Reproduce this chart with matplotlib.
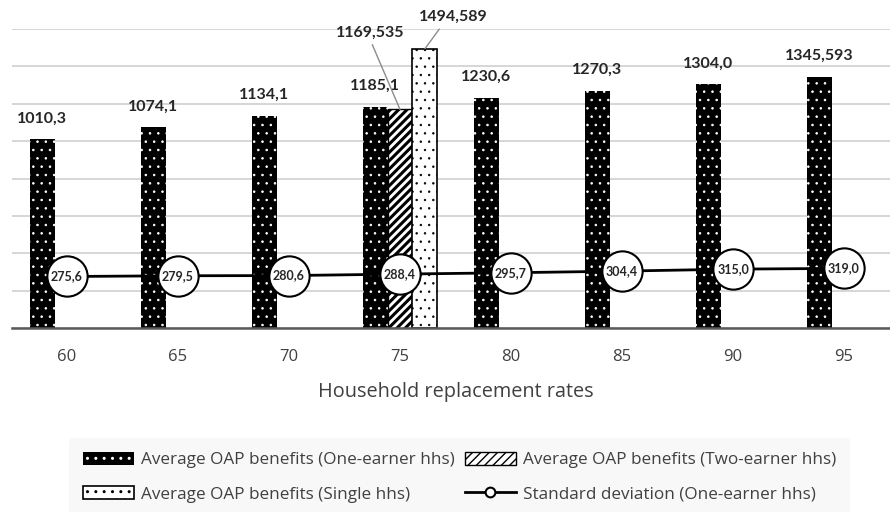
import matplotlib
matplotlib.use("Agg")
import matplotlib.pyplot as plt
import numpy as np

plt.rcParams['font.family'] = ['Lato', 'DejaVu Sans']

# data
rates = ['60', '65', '70', '75', '80', '85', '90', '95']
one_earner = [1010.3, 1074.1, 1134.1, 1185.1, 1230.6, 1270.3, 1304.0, 1345.593]
one_earner_lbl = ['1010,3', '1074,1', '1134,1', '1185,1', '1230,6', '1270,3', '1304,0', '1345,593']
two_earner = [1169.535]      # only for rate 75
two_earner_lbl = ['1169,535']
single = [1494.589]          # only for rate 75
single_lbl = ['1494,589']
extra_idx = [3]
std_dev = [275.6, 279.5, 280.6, 288.4, 295.7, 304.4, 315.0, 319.0]
std_lbl = ['275,6', '279,5', '280,6', '288,4', '295,7', '304,4', '315,0', '319,0']

fig = plt.figure(figsize=(8.9, 5.12), dpi=100)
ax = fig.add_axes([11.5 / 890, 1 - 328 / 512, 888 / 890, (328 - 29) / 512])

x = np.arange(len(rates))
w = 0.225

with plt.rc_context({'hatch.linewidth': 0.6}):
    b1 = ax.bar(x - w, one_earner, w, color='black', edgecolor='white', linewidth=0,
                hatch='..', zorder=2, label='Average OAP benefits (One-earner hhs)')
with plt.rc_context({'hatch.linewidth': 2.2}):
    b2 = ax.bar(np.array(extra_idx), two_earner, w, color='white', edgecolor='black',
                linewidth=1, hatch='////', zorder=2,
                label='Average OAP benefits (Two-earner hhs)')
with plt.rc_context({'hatch.linewidth': 0.5}):
    b3 = ax.bar(np.array(extra_idx) + w, single, w, color='white', edgecolor='black',
                linewidth=1.2, hatch='..', zorder=2,
                label='Average OAP benefits (Single hhs)')

ln, = ax.plot(x, std_dev, color='black', lw=2, marker='o', markersize=29,
              markerfacecolor='white', markeredgecolor='black', markeredgewidth=1.5,
              zorder=3, label='Standard deviation (One-earner hhs)')

# labels
for i, (v, s) in enumerate(zip(one_earner, one_earner_lbl)):
    ax.annotate(s, (i - w, v), xytext=(0, 15), textcoords='offset points',
                ha='center', va='center', fontsize=11.5, fontweight='bold',
                color='#262626')
for i, (v, s) in enumerate(zip(std_dev, std_lbl)):
    ax.text(i, v, s, ha='center', va='center', fontsize=9, fontweight='bold',
            color='#262626', zorder=4)

for i, v, s in zip(extra_idx, two_earner, two_earner_lbl):
    ax.annotate(s, (i, v), xytext=(i - 0.27, 1582), textcoords='data',
                ha='center', va='center', fontsize=11.5, fontweight='bold',
                color='#262626',
                arrowprops=dict(arrowstyle='-', color='#8c8c8c', lw=1,
                                shrinkA=2, shrinkB=0, relpos=(0.5, 0)))
for i, v, s in zip(extra_idx, single, single_lbl):
    ax.annotate(s, (i + w, v), xytext=(i + 0.48, 1664), textcoords='data',
                ha='center', va='center', fontsize=11.5, fontweight='bold',
                color='#262626', annotation_clip=False,
                arrowprops=dict(arrowstyle='-', color='#8c8c8c', lw=1,
                                shrinkA=2, shrinkB=0, relpos=(0.35, 0)))

ax.set_xlim(-0.5, len(rates) - 0.5)
ax.set_ylim(0, 1600)
ax.set_yticks(np.arange(0, 1601, 200))
ax.set_yticklabels([])
ax.tick_params(axis='y', length=0)
ax.set_xticks(x)
ax.set_xticklabels(rates, fontsize=12, color='#404040', family=['Open Sans'])
ax.tick_params(axis='x', length=0, pad=15)
ax.grid(axis='y', color='#d0d0d0', lw=1.2, zorder=0)
ax.set_axisbelow(True)
for sp in ['top', 'right', 'left']:
    ax.spines[sp].set_visible(False)
ax.spines['bottom'].set_color('#595959')
ax.spines['bottom'].set_linewidth(1.8)
ax.set_xlabel('Household replacement rates', fontsize=14.3, color='#404040',
              labelpad=12, family=['Open Sans'])

leg = fig.legend([b1, b3, b2, ln], [b1.get_label(), b3.get_label(), b2.get_label(), ln.get_label()],
                 ncol=2, loc='center', bbox_to_anchor=(0.516, 0.068),
                 prop={'family': 'Open Sans', 'size': 12.3}, frameon=True,
                 handlelength=3.0, handleheight=0.8, handletextpad=0.4,
                 columnspacing=0.6, labelspacing=1.05, borderpad=0.8)
leg.get_frame().set_facecolor('#f7f7f7')
leg.get_frame().set_edgecolor('none')
for t in leg.get_texts():
    t.set_color('#404040')
leg.legend_handles[3].set_markersize(7)

fig.savefig('out.png', dpi=100)
